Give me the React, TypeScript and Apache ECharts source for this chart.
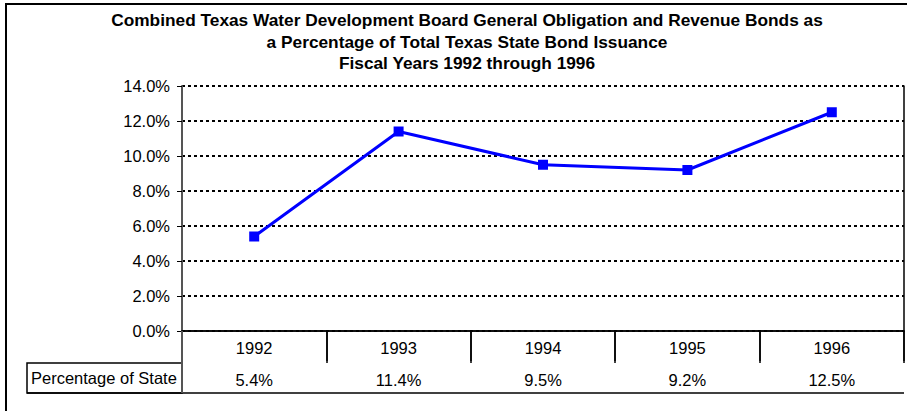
import React, { useEffect, useRef } from "react";
import * as echarts from "echarts";

const years = ["1992", "1993", "1994", "1995", "1996"];
const percentOfState = [5.4, 11.4, 9.5, 9.2, 12.5];
const rowLabel = "Percentage of State";
const titleLines = [
  "Combined Texas Water Development Board General Obligation and Revenue Bonds as",
  "a Percentage of Total Texas State Bond Issuance",
  "Fiscal Years 1992 through 1996",
];
const yMin = 0;
const yMax = 14;
const yStep = 2;

const FONT = "'Liberation Sans', Arial, Helvetica, sans-serif";
const FS = 16.5;

export default function App() {
  const ref = useRef<HTMLDivElement>(null);

  useEffect(() => {
    if (!ref.current) return;
    const chart = echarts.init(ref.current, undefined, { renderer: "svg" });
    const gridLeft = 182;
    const gridRight = 3;
    const gridTop = 86;
    const gridBottom = 80;
    const W = 907;
    const H = 411;
    const axisY = H - gridBottom; // 331
    const rowH1 = 32;
    const rowH2 = 30;
    const plotRight = W - gridRight;

    chart.setOption({
      animation: false,
      backgroundColor: "#ffffff",
      grid: { left: gridLeft, right: gridRight, top: gridTop, bottom: gridBottom, containLabel: false },
      xAxis: [
        {
          type: "category",
          data: years,
          position: "bottom",
          boundaryGap: true,
          axisLine: { show: true, lineStyle: { color: "#000", width: 1.5 } },
          axisTick: { show: true, interval: 0, length: rowH1, inside: false, lineStyle: { color: "#000", width: 1.5 } },
          axisLabel: { show: true, interval: 0, margin: 8, color: "#000", fontSize: FS, fontFamily: FONT },
          splitLine: { show: false },
        },
        {
          type: "category",
          data: years,
          position: "bottom",
          offset: rowH1,
          boundaryGap: true,
          axisLine: { show: true, lineStyle: { color: "#000", width: 1.5 } },
          axisTick: { show: true, interval: 0, length: rowH2, inside: false, lineStyle: { color: "#000", width: 1.5 } },
          axisLabel: {
            show: true,
            interval: 0,
            margin: 8,
            color: "#000",
            fontSize: FS,
            fontFamily: FONT,
            formatter: (_v: string, i: number) => percentOfState[i].toFixed(1) + "%",
          },
          splitLine: { show: false },
        },
      ],
      yAxis: [
        {
          type: "value",
          min: yMin,
          max: yMax,
          interval: yStep,
          axisLine: { show: true, lineStyle: { color: "#555", width: 2 } },
          axisTick: { show: true, length: 5, lineStyle: { color: "#000", width: 1 } },
          axisLabel: {
            margin: 12,
            color: "#000",
            fontSize: FS,
            fontFamily: FONT,
            formatter: (v: number) => v.toFixed(1) + "%",
          },
          splitLine: { show: true, lineStyle: { color: "#000", width: 2, type: [3, 3] } },
        },
        {
          type: "value",
          min: yMin,
          max: yMax,
          interval: yStep,
          position: "right",
          axisLine: { show: true, lineStyle: { color: "#000", width: 1.5 } },
          axisTick: { show: false },
          axisLabel: { show: false },
          splitLine: { show: false },
        },
      ],
      series: [
        {
          type: "line",
          xAxisIndex: 0,
          yAxisIndex: 0,
          data: percentOfState,
          symbol: "rect",
          symbolSize: 10,
          showSymbol: true,
          lineStyle: { color: "#0000ff", width: 3 },
          itemStyle: { color: "#0000ff" },
          z: 5,
        },
      ],
      graphic: [
        {
          type: "rect",
          shape: { x: 6, y: 4, width: 1000, height: 1000 },
          style: { fill: "none", stroke: "#000", lineWidth: 2 },
          silent: true,
        },
        {
          type: "text",
          x: 467,
          y: 9.5,
          style: {
            text: titleLines.join("\n"),
            align: "center",
            verticalAlign: "top",
            font: `bold 17.3px ${FONT}`,
            lineHeight: 21.5,
            fill: "#000",
          },
        },
        {
          type: "rect",
          shape: { x: 27, y: axisY + rowH1, width: gridLeft - 27, height: rowH2 },
          style: { fill: "none", stroke: "#000", lineWidth: 1.5 },
        },
        {
          type: "line",
          shape: { x1: 27, y1: axisY + rowH1 + rowH2, x2: plotRight, y2: axisY + rowH1 + rowH2 },
          style: { stroke: "#000", lineWidth: 1.5 },
        },
        {
          type: "line",
          shape: { x1: gridLeft, y1: axisY, x2: gridLeft, y2: axisY + rowH1 + rowH2 },
          style: { stroke: "#555", lineWidth: 2 },
          z: 10,
        },
        {
          type: "text",
          x: 31,
          y: axisY + rowH1 + rowH2 / 2,
          style: {
            text: rowLabel,
            align: "left",
            verticalAlign: "middle",
            font: `${FS}px ${FONT}`,
            fill: "#000",
          },
        },
      ],
    });
    return () => chart.dispose();
  }, []);

  return (
    <div
      ref={ref}
      style={{ position: "absolute", left: 0, top: 0, width: 907, height: 411 }}
    />
  );
}
